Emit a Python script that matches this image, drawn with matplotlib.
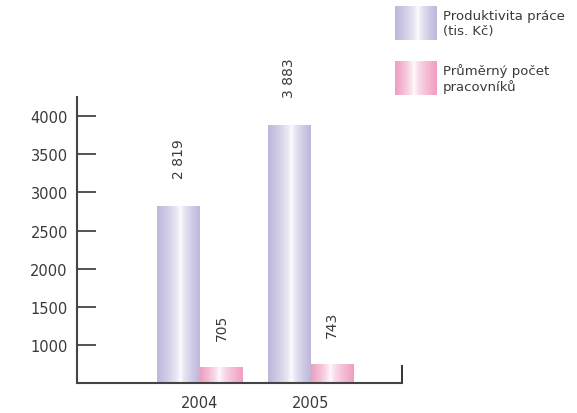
import numpy as np
import matplotlib.pyplot as plt
from matplotlib.colors import to_rgb

# data
roky = ['2004', '2005']
produktivita = [2819, 3883]
pracovnici = [705, 743]
popisky_prod = ['2 819', '3 883']
popisky_prac = ['705', '743']
legenda = ['Produktivita práce\n(tis. Kč)', 'Průměrný počet\npracovníků']

barva_prod = '#bdb7db'
barva_prac = '#ef9fc2'
seda = '#3a3a3a'


def gradient(barva, stred=0.5, n=200):
    # barva na krajich, bila uprostred
    c = np.array(to_rgb(barva))
    x = np.linspace(0, 1, n)
    t = np.where(x < stred, (stred - x) / stred, (x - stred) / (1 - stred))
    t = t ** 0.65
    img = (1 - t)[:, None] * np.ones(3) + t[:, None] * c
    return img[None, :, :]


plt.rcParams['font.family'] = ['DejaVu Sans']

fig = plt.figure(figsize=(5.77, 4.14), dpi=100)
ax = fig.add_axes([0.1343, 0.0725, 0.5624, 0.6908])

x = np.arange(len(roky))
w = 0.388
ymin = 500

b1 = ax.bar(x - w / 2, np.array(produktivita) - ymin, w, bottom=ymin, color='none', linewidth=0)
b2 = ax.bar(x + w / 2, np.array(pracovnici) - ymin, w, bottom=ymin, color='none', linewidth=0)

for bars, barva, stred in [(b1, barva_prod, 0.55), (b2, barva_prac, 0.45)]:
    for r in bars:
        x0, y0 = r.get_x(), r.get_y()
        ax.imshow(gradient(barva, stred), extent=[x0, x0 + r.get_width(), y0, y0 + r.get_height()],
                  aspect='auto', zorder=2, interpolation='bilinear')

for bars, texty in [(b1, popisky_prod), (b2, popisky_prac)]:
    for r, t in zip(bars, texty):
        ax.annotate(t, (r.get_x() + r.get_width() / 2, r.get_y() + r.get_height()),
                    xytext=(0, 20), textcoords='offset points', rotation=90,
                    ha='center', va='bottom', fontsize=10, color=seda)

ax.set_xlim(-1.107, 1.825)
ax.set_ylim(ymin, 4253)

ax.set_yticks([1000, 1500, 2000, 2500, 3000, 3500, 4000])
ax.tick_params(axis='y', direction='in', length=14, width=1.3, color='#444444',
               labelsize=10.5, labelcolor=seda, pad=7)
ax.set_xticks(x)
ax.set_xticklabels(roky)
ax.tick_params(axis='x', length=0, labelsize=10.5, labelcolor=seda, pad=9)
ax.set_xticks([1.825], minor=True)
ax.tick_params(axis='x', which='minor', direction='in', length=13, width=1.3, color='#222222')

for s in ['top', 'right']:
    ax.spines[s].set_visible(False)
for s in ['left', 'bottom']:
    ax.spines[s].set_color('#444444')
    ax.spines[s].set_linewidth(1.5)

# legenda
W, H = 577, 414
for i, (barva, stred) in enumerate([(barva_prod, 0.55), (barva_prac, 0.45)]):
    top = [7, 62][i]
    lax = fig.add_axes([395 / W, 1 - (top + 34) / H, 42 / W, 34 / H])
    lax.imshow(gradient(barva, stred), aspect='auto', interpolation='bilinear')
    lax.axis('off')
    fig.text(443 / W, 1 - (top + 17) / H, legenda[i], fontsize=9.5, color=seda,
             va='center', ha='left', linespacing=1.25)

fig.savefig('out.png', dpi=100)
